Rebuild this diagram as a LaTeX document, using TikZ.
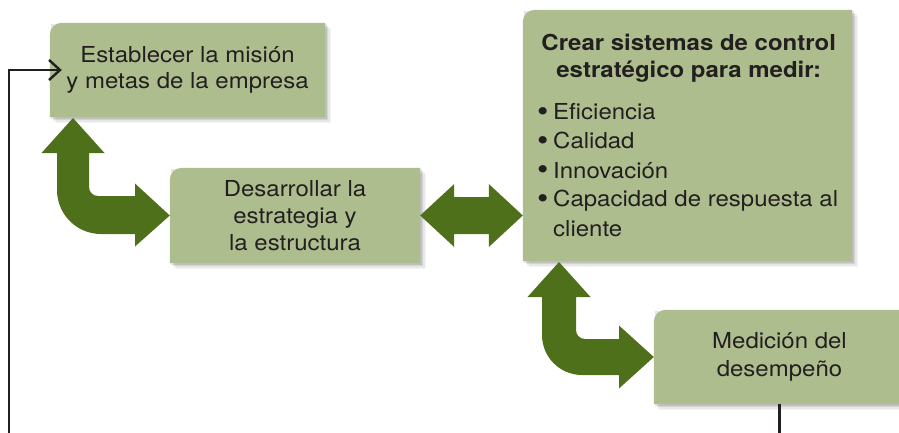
\documentclass[tikz,border=0pt]{standalone}
\usepackage{fontspec}
\setmainfont{TeX Gyre Heros}[FakeStretch=1.09]
\usetikzlibrary{calc,backgrounds,arrows.meta}
\definecolor{boxfill}{RGB}{173,189,142}
\definecolor{arrowgreen}{RGB}{78,112,27}
\definecolor{ink}{RGB}{35,31,32}
\tikzset{
  panel/.style={inner sep=0pt, draw=none, text=ink, align=center},
  fatarrow/.style={fill=arrowgreen, draw=none},
  fbline/.style={draw=ink, line width=2.4pt},
}
\newcommand\greenpanel[1]{%
  \begin{scope}[on background layer]
    \foreach \s/\o in {1.5/0.10,3/0.08,4.5/0.06,6/0.04}{%
      \fill[black,opacity=\o] ($(#1.south west)+(\s,-\s)$) rectangle ($(#1.north east)+(\s,-\s)$);}
    \fill[boxfill] (#1.south west) -- ($(#1.north west)+(0,-12)$)
      arc[start angle=180,end angle=90,radius=12pt] -- (#1.north east) -- (#1.south east) -- cycle;
  \end{scope}}
\newcommand\bul{\hspace*{6pt}\makebox[16pt][l]{\raisebox{-1.6pt}{\scalebox{1.35}{•}}}}
\begin{document}
\begin{tikzpicture}[x=1pt,y=1pt]
\useasboundingbox (0,0) rectangle (899,432);
\clip (0,0) rectangle (899,432);

% boxes
\node[panel, minimum width=275pt, minimum height=94pt, font=\fontsize{22}{26}\selectfont] (mis) at (187.5,362)
  {Establecer la misión\\y metas de la empresa};
\node[panel, minimum width=250pt, minimum height=95pt, font=\fontsize{22}{27}\selectfont] (dev) at (295,216.5)
  {Desarrollar la\\estrategia y\\la estructura};
\node[panel, minimum width=329pt, minimum height=251pt] (ctrl) at (687.5,296.5) {};
\node[panel, minimum width=251pt, minimum height=94pt, font=\fontsize{22}{28}\selectfont] (med) at (779.5,75)
  {Medición del\\desempeño};
\node[inner sep=0pt, anchor=base west, text=ink] (ctrltxt) at (531,381)
  {\parbox[t]{315pt}{\parindent=0pt
    {\fontsize{22}{27}\selectfont\centering\bfseries Crear sistemas de control\\estratégico para medir:\par}
    \vspace{13pt}
    {\fontsize{22}{29}\selectfont\raggedright
    \bul Eficiencia\\
    \bul Calidad\\
    \bul Innovación\\
    \bul Capacidad de respuesta al\\
    \hspace*{22pt}cliente\par}}};

\greenpanel{mis}
\greenpanel{dev}
\greenpanel{ctrl}
\greenpanel{med}

% double arrow between dev and ctrl
\coordinate (da) at (dev.east);
\coordinate (db) at (dev.east -| ctrl.west);
\fill[fatarrow] (da) -- ($(da)+(34,31.5)$) -- ($(da)+(34,18.5)$) -- ($(db)+(-34,18.5)$) -- ($(db)+(-34,31.5)$)
  -- (db) -- ($(db)+(-34,-31.5)$) -- ($(db)+(-34,-18.5)$) -- ($(da)+(34,-18.5)$) -- ($(da)+(34,-31.5)$) -- cycle;

% bent arrow mis <-> dev
\fill[fatarrow] (73,314) -- (104.5,279) -- (89,279) -- (89,245)
  arc[start angle=180,end angle=270,radius=9pt] -- (135,236) -- (135,248.5) -- (dev.west)
  -- (135,185.5) -- (135,198) -- (101,198)
  arc[start angle=270,end angle=180,radius=44pt] -- (57,279) -- (41.5,279) -- cycle;

% bent arrow ctrl <-> med
\fill[fatarrow] (559,170) -- (590.5,135) -- (576,135) -- (576,102)
  arc[start angle=180,end angle=270,radius=9pt] -- (619,93) -- (619,106.5) -- (med.west)
  -- (619,43.5) -- (619,57) -- (582,57)
  arc[start angle=270,end angle=180,radius=40pt] -- (542,135) -- (527.5,135) -- cycle;

% feedback lines
\coordinate (fbl) at (9,-3);
\draw[fbline, -{Straight Barb[length=11pt,width=20pt]}] (fbl) |- ([xshift=12pt]mis.west);
\draw[fbline] (med.south) -- (med.south |- fbl);
\end{tikzpicture}
\end{document}
